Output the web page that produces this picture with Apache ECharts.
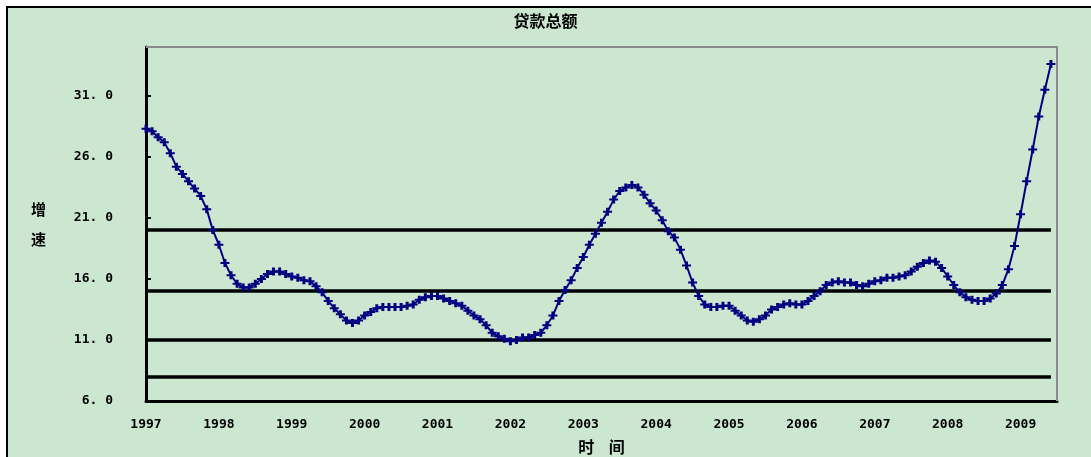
<!DOCTYPE html>
<html>
<head>
<meta charset="utf-8">
<title>贷款总额</title>
<script src="https://cdn.jsdelivr.net/npm/echarts@6/dist/echarts.min.js"></script>
<style>
  html, body { margin: 0; padding: 0; background: #ffffff; }
  #chart { width: 1091px; height: 457px; }
</style>
</head>
<body>
<div id="chart"></div>
<script>
// Years shown on the time axis; months run from January 1997 through July 2009
const years = ['1997', '1998', '1999', '2000', '2001', '2002', '2003',
               '2004', '2005', '2006', '2007', '2008', '2009'];
const lastMonth = '2009-07';

// Monthly loan growth (%), one row per year
const growth1997 = [28.3, 28.1, 27.6, 27.2, 26.3, 25.2, 24.6, 24.0, 23.4, 22.8, 21.7, 20.0];
const growth1998 = [18.8, 17.3, 16.3, 15.6, 15.3, 15.3, 15.6, 16.0, 16.4, 16.6, 16.6, 16.4];
const growth1999 = [16.2, 16.1, 15.9, 15.8, 15.4, 14.9, 14.2, 13.6, 13.1, 12.6, 12.4, 12.6];
const growth2000 = [13.0, 13.3, 13.6, 13.7, 13.7, 13.7, 13.7, 13.8, 13.9, 14.3, 14.5, 14.6];
const growth2001 = [14.6, 14.4, 14.2, 14.0, 13.8, 13.4, 13.0, 12.7, 12.2, 11.6, 11.3, 11.1];
const growth2002 = [10.9, 11.0, 11.2, 11.2, 11.4, 11.6, 12.2, 13.0, 14.2, 15.1, 15.9, 16.9];
const growth2003 = [17.8, 18.8, 19.7, 20.6, 21.5, 22.5, 23.2, 23.5, 23.7, 23.5, 22.9, 22.2];
const growth2004 = [21.6, 20.8, 19.9, 19.4, 18.4, 17.1, 15.7, 14.6, 13.9, 13.7, 13.7, 13.8];
const growth2005 = [13.8, 13.4, 13.0, 12.6, 12.5, 12.7, 13.0, 13.5, 13.7, 13.9, 14.0, 13.9];
const growth2006 = [13.9, 14.2, 14.6, 15.0, 15.5, 15.7, 15.8, 15.7, 15.7, 15.5, 15.4, 15.6];
const growth2007 = [15.8, 15.9, 16.1, 16.1, 16.2, 16.3, 16.6, 17.0, 17.3, 17.5, 17.4, 16.9];
const growth2008 = [16.2, 15.5, 14.9, 14.5, 14.3, 14.2, 14.2, 14.4, 14.8, 15.5, 16.8, 18.7];
const growth2009 = [21.3, 24.0, 26.6, 29.3, 31.5, 33.6];

// Horizontal guide levels
const guideLevels = [20, 15, 11, 8];

// Value-axis tick labels
const yTicks = [6, 11, 16, 21, 26, 31];

const growth = [].concat(growth1997, growth1998, growth1999, growth2000, growth2001,
  growth2002, growth2003, growth2004, growth2005, growth2006, growth2007, growth2008, growth2009);

const months = [];
outer:
for (const y of years) {
  for (let m = 1; m <= 12; m++) {
    const key = y + '-' + String(m).padStart(2, '0');
    months.push(key);
    if (key === lastMonth) break outer;
  }
}

const labelFont = 'DejaVu Sans Mono, Liberation Mono, monospace';
const cjkFont = 'Noto Sans CJK SC, Noto Sans, sans-serif';

const chart = echarts.init(document.getElementById('chart'), null, { renderer: 'canvas' });

chart.setOption({
  animation: false,
  backgroundColor: '#ffffff',
  graphic: [
    {
      type: 'rect', z: -10, silent: true,
      shape: { x: 7, y: 7, width: 1100, height: 460 },
      style: { fill: '#CCE7D0', stroke: '#000000', lineWidth: 2 }
    },
    {
      type: 'polyline', z: 1, silent: true,
      shape: { points: [[146, 47], [1057, 47], [1057, 401]] },
      style: { stroke: '#8a8a8a', lineWidth: 2, fill: null }
    }
  ],
  title: {
    text: '贷款总额',
    left: 'center',
    top: 8,
    textStyle: { fontFamily: cjkFont, fontWeight: 'bold', fontSize: 16, color: '#000000' }
  },
  grid: {
    left: 146, top: 47, width: 911, height: 354,
    containLabel: false,
    outerBoundsMode: 'none'
  },
  xAxis: {
    type: 'category',
    data: months,
    boundaryGap: false,
    axisLine: { lineStyle: { color: '#000000', width: 3 } },
    axisTick: { show: false },
    splitLine: { show: false },
    axisLabel: {
      interval: (index) => index % 12 === 0,
      formatter: (v) => v.slice(0, 4),
      margin: 17,
      color: '#000000',
      fontWeight: 'bold',
      fontSize: 13,
      fontFamily: labelFont
    },
    name: '时    间',
    nameLocation: 'middle',
    nameGap: 38,
    nameTextStyle: { fontFamily: cjkFont, fontWeight: 'bold', fontSize: 16, color: '#000000' }
  },
  yAxis: {
    type: 'value',
    min: 6,
    max: 35,
    interval: 5,
    axisLine: { show: true, lineStyle: { color: '#000000', width: 3 } },
    axisTick: { show: true, inside: true, length: 5, customValues: yTicks,
                lineStyle: { color: '#000000', width: 2 } },
    splitLine: { show: false },
    axisLabel: {
      customValues: yTicks,
      margin: 33,
      padding: [4, 0, 0, 0],
      formatter: (v) => v.toFixed(1).replace('.', '. '),
      color: '#000000',
      fontWeight: 'bold',
      fontSize: 13,
      fontFamily: labelFont
    },
    name: '增\n速',
    nameLocation: 'middle',
    nameRotate: 0,
    nameGap: 100,
    nameTextStyle: { fontFamily: cjkFont, fontWeight: 'bold', fontSize: 15, lineHeight: 30, color: '#000000' }
  },
  series: [
    {
      type: 'line',
      name: '贷款总额',
      data: growth,
      z: 3,
      showAllSymbol: true,
      symbol: 'path://M0,3L9,3L9,5L0,5Z M3,0L6,0L6,8L3,8Z',
      symbolSize: [9, 8],
      lineStyle: { color: '#000080', width: 2 },
      itemStyle: { color: '#000080' },
      markLine: {
        z: 1,
        silent: true,
        symbol: ['none', 'none'],
        label: { show: false },
        lineStyle: { color: '#000000', width: 3.5, type: 'solid' },
        data: guideLevels.map((v) => [{ coord: [0, v] }, { coord: [growth.length - 1, v] }])
      }
    }
  ]
});
</script>
</body>
</html>
